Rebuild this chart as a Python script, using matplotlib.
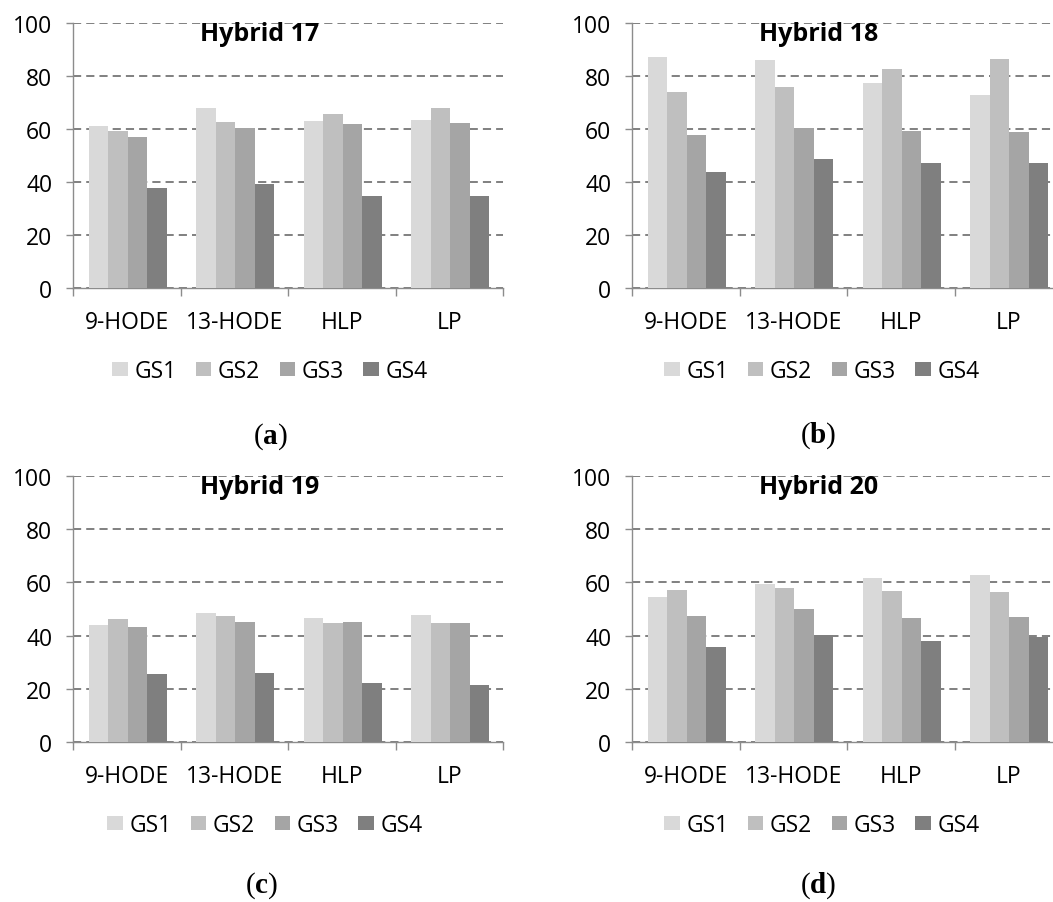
import matplotlib
matplotlib.use("Agg")
import matplotlib.pyplot as plt
from matplotlib.patches import Patch
import numpy as np

categories = ["9-HODE", "13-HODE", "HLP", "LP"]
series = ["GS1", "GS2", "GS3", "GS4"]
colors = ["#d9d9d9", "#bfbfbf", "#a5a5a5", "#7f7f7f"]

h17_gs1 = [61.1, 67.8, 63.1, 63.4]
h17_gs2 = [59.3, 62.7, 65.5, 67.8]
h17_gs3 = [57.0, 60.3, 61.8, 62.1]
h17_gs4 = [37.6, 39.2, 34.8, 34.8]

h18_gs1 = [87.2, 85.9, 77.4, 72.9]
h18_gs2 = [73.9, 75.8, 82.5, 86.3]
h18_gs3 = [57.7, 60.2, 59.3, 58.7]
h18_gs4 = [43.7, 48.7, 47.1, 47.1]

h19_gs1 = [44.1, 48.6, 46.5, 47.9]
h19_gs2 = [46.1, 47.5, 44.9, 44.9]
h19_gs3 = [43.1, 45.1, 45.2, 44.9]
h19_gs4 = [25.7, 26.1, 22.3, 21.6]

h20_gs1 = [54.6, 59.5, 61.8, 62.8]
h20_gs2 = [57.0, 57.8, 56.8, 56.4]
h20_gs3 = [47.5, 50.0, 46.5, 46.9]
h20_gs4 = [35.6, 40.2, 38.1, 39.3]

titles = ["Hybrid 17", "Hybrid 18", "Hybrid 19", "Hybrid 20"]
panel_labels = ["a", "b", "c", "d"]
yticks = [0, 20, 40, 60, 80, 100]

panels = [
    [h17_gs1, h17_gs2, h17_gs3, h17_gs4],
    [h18_gs1, h18_gs2, h18_gs3, h18_gs4],
    [h19_gs1, h19_gs2, h19_gs3, h19_gs4],
    [h20_gs1, h20_gs2, h20_gs3, h20_gs4],
]

plt.rcParams["font.family"] = ["Open Sans", "DejaVu Sans"]
plt.rcParams["mathtext.fontset"] = "custom"
plt.rcParams["mathtext.rm"] = "Liberation Serif"
plt.rcParams["mathtext.bf"] = "Liberation Serif:bold"

W, H = 1053, 903
fig = plt.figure(figsize=(W / 100, H / 100), dpi=100)

gray = "#808080"
axis_gray = "#8c8c8c"
pos = [(73, 289, 24), (632, 289, 24), (73, 743, 477), (632, 743, 477)]
axw = 430
legend_cx = [270, 822, 265, 822]
label_pos = [(270, 437), (818, 436), (262, 886), (818, 886)]
fs = 16.5

for k, (lp, bp, tp) in enumerate(pos):
    ax = fig.add_axes([lp / W, 1 - bp / H, axw / W, (bp - tp) / H])
    x = np.arange(len(categories))
    bw = 0.181
    for i, vals in enumerate(panels[k]):
        ax.bar(x + (i - 1.5) * bw + 0.01, vals, width=bw, color=colors[i],
               zorder=3, linewidth=0)
    ax.set_xlim(-0.5, 3.5)
    ax.set_ylim(0, 100)
    ax.set_yticks(yticks)
    ax.yaxis.grid(True, color=gray, linestyle=(0, (4.2, 2.6)), linewidth=1.4, zorder=0)
    ax.set_axisbelow(True)
    for s in ["top", "right"]:
        ax.spines[s].set_visible(False)
    for s in ["left", "bottom"]:
        ax.spines[s].set_color(axis_gray)
        ax.spines[s].set_linewidth(1.0)
    ax.tick_params(axis="y", length=5, color=axis_gray, width=1.0, pad=10,
                   labelsize=fs, labelcolor="black")
    ax.set_xticks(np.arange(-0.5, 4.0, 1.0))
    ax.set_xticklabels([])
    ax.tick_params(axis="x", which="major", length=6, color=axis_gray, width=1.0)
    ax.set_xticks(x, minor=True)
    ax.set_xticklabels(categories, minor=True)
    ax.tick_params(axis="x", which="minor", length=0, pad=16, labelsize=fs,
                   labelcolor="black")
    ax.text(0.434, 0.962, titles[k], transform=ax.transAxes, ha="center",
            va="center", fontsize=18, fontweight="bold")

    handles = [Patch(facecolor=c, edgecolor="none") for c in colors]
    fig.legend(handles, series, loc="center",
               bbox_to_anchor=(legend_cx[k] / W, 1 - (bp + 83) / H),
               ncol=4, frameon=False, fontsize=fs, handlelength=0.66,
               handleheight=0.62, handletextpad=0.3, columnspacing=0.85,
               borderpad=0, borderaxespad=0)

    lx, ly = label_pos[k]
    fig.text(lx / W, 1 - ly / H, "(" + r"$\mathbf{" + panel_labels[k] + r"}$" + ")",
             ha="center", va="center", fontsize=21, family="Liberation Serif")

fig.savefig("out.png", dpi=100)
